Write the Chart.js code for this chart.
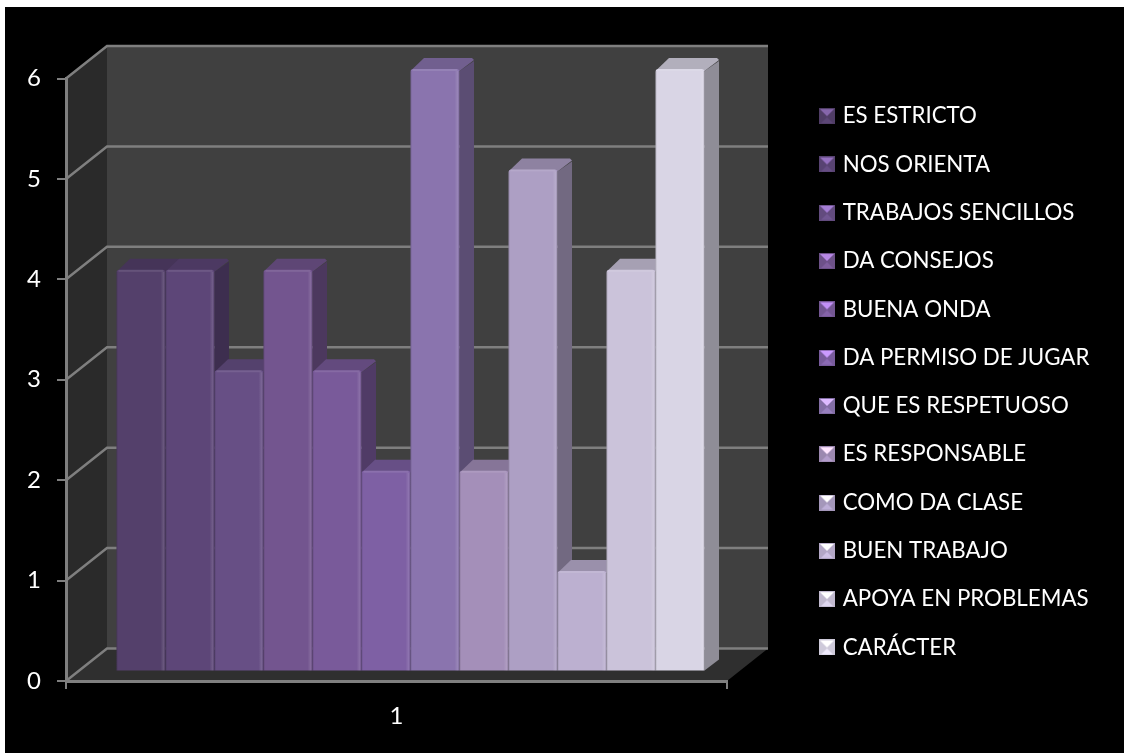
<!DOCTYPE html>
<html>
<head>
<meta charset="utf-8">
<script src="https://cdn.jsdelivr.net/npm/chart.js@4"></script>
<style>
  html, body { margin: 0; padding: 0; background: #fff; overflow: hidden; }
  #wrap { position: absolute; left: 5px; top: 7px; width: 1119px; height: 746px; background: #000; }
</style>
</head>
<body>
<div id="wrap"><canvas id="myChart" width="1119" height="746"></canvas></div>
<script>
const categories = ['1'];
const seriesNames = ['ES ESTRICTO', 'NOS ORIENTA', 'TRABAJOS SENCILLOS', 'DA CONSEJOS', 'BUENA ONDA', 'DA PERMISO DE JUGAR',
    'QUE ES RESPETUOSO', 'ES RESPONSABLE', 'COMO DA CLASE', 'BUEN TRABAJO', 'APOYA EN PROBLEMAS', 'CARÁCTER'];
const seriesValues = [4, 4, 3, 4, 3, 2, 6, 2, 5, 1, 4, 6];
const tickLabels = [0, 1, 2, 3, 4, 5, 6];
const barColors = ['#54406b', '#5d4678', '#674f85', '#73558f', '#795a9a', '#7e60a4',
    '#8a74ae', '#a48fb9', '#ad9fc4', '#bcb0d0', '#cbc3da', '#d9d5e5'];

const FONT = 'Lato, sans-serif';
// depth of the fake 3d box and of the bars
const wallX = 41, wallY = -32.5;
const barShiftX = 14, barShiftY = -9.5;
const barDepthX = 14.5, barDepthY = -11;

function shade(hex, f) {
    const n = parseInt(hex.slice(1), 16);
    const c = [n >> 16, (n >> 8) & 255, n & 255].map(v => Math.min(255, Math.round(v * f)));
    return 'rgb(' + c.join(',') + ')';
}

function poly(ctx, pts, fill) {
    ctx.beginPath();
    pts.forEach((p, i) => i ? ctx.lineTo(p[0], p[1]) : ctx.moveTo(p[0], p[1]));
    ctx.closePath();
    ctx.fillStyle = fill;
    ctx.fill();
}

function swatch(color) {
    const c = document.createElement('canvas');
    c.width = 16; c.height = 16;
    const g = c.getContext('2d');
    poly(g, [[0, 0], [16, 0], [16, 16], [0, 16]], shade(color, 0.95));
    poly(g, [[1, 1], [15, 1], [8, 8]], shade(color, 1.6));
    poly(g, [[2, 15], [14, 15], [8, 9]], shade(color, 1.1));
    return c;
}

const box3d = {
    id: 'box3d',
    beforeLayout(chart) {
        // legend takes everything right of the plot
        const legend = chart.legend;
        legend.fit = function() {
            Object.getPrototypeOf(legend).fit.call(legend);
            legend.width = 397;
        };
    },
    afterLayout(chart) {
        const h = chart.legend.height;
        chart.legend.left = 791.5;
        chart.legend.top = 72;
        chart.legend.bottom = 72 + h;
    },
    beforeDraw(chart) {
        const ctx = chart.ctx, a = chart.chartArea, y = chart.scales.y;
        const x0 = a.left, x1 = a.right, top = y.getPixelForValue(6), bot = y.getPixelForValue(0);
        ctx.save();
        poly(ctx, [[x0 + wallX, top + wallY], [x1 + wallX, top + wallY], [x1 + wallX, bot + wallY], [x0 + wallX, bot + wallY]], '#404040');
        poly(ctx, [[x0, top], [x0 + wallX, top + wallY], [x0 + wallX, bot + wallY], [x0, bot]], '#2a2a2a');
        poly(ctx, [[x0, bot], [x0 + wallX, bot + wallY], [x1 + wallX, bot + wallY], [x1, bot]], '#2f2f2f');
        ctx.strokeStyle = '#7f7f7f';
        ctx.lineWidth = 2.5;
        tickLabels.forEach(v => {
            const py = y.getPixelForValue(v);
            ctx.beginPath();
            ctx.moveTo(x0, py);
            ctx.lineTo(x0 + wallX, py + wallY);
            ctx.lineTo(x1 + wallX, py + wallY);
            ctx.stroke();
        });
        ctx.restore();
    },
    beforeDatasetsDraw(chart) {
        // paint left to right so every bar covers the side of the one before
        const ctx = chart.ctx;
        ctx.save();
        ctx.translate(barShiftX, barShiftY);
        chart.data.datasets.forEach((ds, i) => {
            const bar = chart.getDatasetMeta(i).data[0];
            const p = bar.getProps(['x', 'y', 'base', 'width'], true);
            const l = p.x - p.width / 2, r = p.x + p.width / 2;
            const color = barColors[i];
            poly(ctx, [[r, p.y + 2], [r + barDepthX, p.y + barDepthY + 3], [r + barDepthX, p.base + barDepthY], [r, p.base]], shade(color, 0.66));
            poly(ctx, [[l + 1, p.y + 1], [l + 1 + barDepthX - 2, p.y + barDepthY], [r + barDepthX - 2, p.y + barDepthY], [r + barDepthX, p.y + barDepthY + 2], [r, p.y + 2]], shade(color, 0.82));
            bar.draw(ctx);
            const g = ctx.createLinearGradient(l, 0, r, 0);
            g.addColorStop(0, 'rgba(0,0,0,0.2)');
            g.addColorStop(0.03, 'rgba(0,0,0,0)');
            g.addColorStop(0.9, 'rgba(255,255,255,0)');
            g.addColorStop(0.96, 'rgba(255,255,255,0.12)');
            g.addColorStop(1, 'rgba(0,0,0,0.12)');
            ctx.fillStyle = g;
            ctx.fillRect(l, p.y + 2, p.width, p.base - p.y - 2);
            // soft highlight along the top edge
            ctx.fillStyle = 'rgba(255,255,255,0.1)';
            ctx.fillRect(l + 2, p.y, p.width - 4, 2);
        });
        ctx.restore();
        return false;
    }
};

new Chart(document.getElementById('myChart'), {
    type: 'bar',
    data: {
        labels: categories,
        datasets: seriesNames.map((name, i) => ({
            label: name,
            data: [seriesValues[i]],
            backgroundColor: barColors[i],
            borderWidth: 0,
            borderRadius: { topLeft: 3, topRight: 3 },
            borderSkipped: false,
            pointStyle: swatch(barColors[i])
        }))
    },
    options: {
        responsive: false,
        animation: false,
        devicePixelRatio: 1,
        layout: { padding: { top: 71.5 } },
        datasets: { bar: { barPercentage: 1, categoryPercentage: 588 / 661 } },
        plugins: {
            tooltip: { enabled: false },
            legend: {
                position: 'right',
                align: 'start',
                labels: {
                    color: '#fff',
                    font: { family: FONT, size: 22.3 },
                    usePointStyle: true,
                    pointStyleWidth: 9,
                    padding: 26
                }
            }
        },
        scales: {
            x: {
                afterFit(scale) { scale.height = 72; },
                grid: { drawOnChartArea: false, color: '#7f7f7f', lineWidth: 2, tickLength: 8 },
                border: { color: '#7f7f7f', width: 3 },
                ticks: { color: '#fff', font: { family: FONT, size: 24 }, padding: 13 }
            },
            y: {
                min: 0,
                max: 6,
                afterFit(scale) { scale.width = 61; },
                afterBuildTicks(scale) { scale.ticks = tickLabels.map(v => ({ value: v })); },
                grid: { drawOnChartArea: false, color: '#7f7f7f', lineWidth: 2, tickLength: 9 },
                border: { color: '#7f7f7f', width: 3 },
                ticks: { color: '#fff', font: { family: FONT, size: 24 }, padding: 16 }
            }
        }
    },
    plugins: [box3d]
});
</script>
</body>
</html>
